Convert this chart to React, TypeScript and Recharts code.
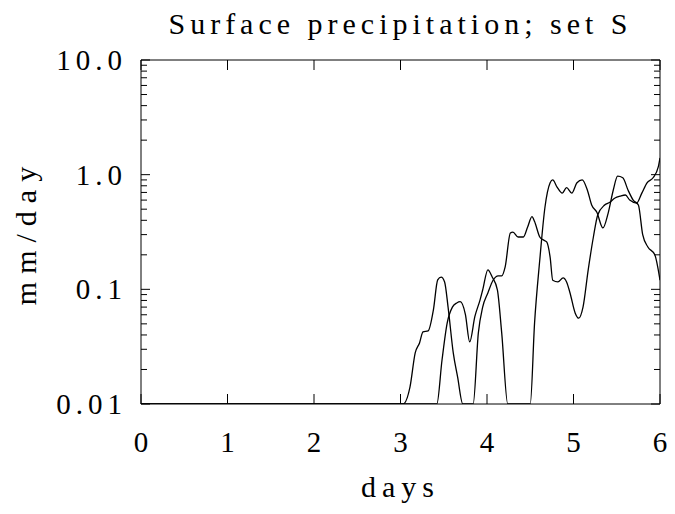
import { LineChart, Line, XAxis, YAxis } from 'recharts';

// days vs surface precipitation (mm/day)
const daysA = [0, 3.03, 3.11, 3.17, 3.22, 3.26, 3.32, 3.38, 3.43, 3.47, 3.51, 3.55, 3.61, 3.66, 3.72, 3.84, 3.9, 3.95, 4.01, 4.07, 4.13, 4.17, 4.21, 4.27, 4.3, 4.36, 4.42, 4.47, 4.52, 4.55, 4.61, 4.65, 4.69, 4.73, 4.76, 4.82, 4.88, 4.92, 4.96, 5.02, 5.06, 5.11, 5.17, 5.23, 5.28, 5.36, 5.42, 5.48, 5.54, 5.6, 5.65, 5.73, 5.79, 5.85, 5.92, 5.98, 6.0];
const precipA = [0.01, 0.01, 0.0141, 0.0279, 0.0341, 0.0425, 0.0434, 0.066, 0.121, 0.128, 0.116, 0.07, 0.0279, 0.0172, 0.01, 0.01, 0.0417, 0.07, 0.093, 0.12, 0.131, 0.131, 0.157, 0.31, 0.316, 0.286, 0.286, 0.35, 0.43, 0.39, 0.286, 0.27, 0.259, 0.19, 0.12, 0.116, 0.126, 0.116, 0.093, 0.062, 0.056, 0.07, 0.148, 0.286, 0.445, 0.544, 0.575, 0.626, 0.65, 0.665, 0.6, 0.566, 0.69, 0.85, 0.94, 1.17, 1.4];

const daysB = [0, 3.42, 3.48, 3.54, 3.6, 3.65, 3.69, 3.75, 3.8, 3.86, 3.92, 3.95, 4.01, 4.06, 4.12, 4.17, 4.24, 4.5, 4.55, 4.61, 4.67, 4.73, 4.76, 4.81, 4.87, 4.92, 4.98, 5.04, 5.1, 5.16, 5.21, 5.27, 5.34, 5.4, 5.46, 5.51, 5.57, 5.63, 5.69, 5.75, 5.8, 5.86, 5.94, 6.0];
const precipB = [0.01, 0.01, 0.0242, 0.051, 0.07, 0.076, 0.078, 0.0606, 0.0348, 0.058, 0.081, 0.0986, 0.148, 0.128, 0.099, 0.0417, 0.01, 0.01, 0.051, 0.18, 0.52, 0.85, 0.9, 0.78, 0.69, 0.77, 0.69, 0.85, 0.9, 0.735, 0.544, 0.47, 0.343, 0.46, 0.735, 0.97, 0.94, 0.735, 0.6, 0.544, 0.3, 0.234, 0.2, 0.12];

const xTicks = [0, 1, 2, 3, 4, 5, 6];
const yMajor = [0.01, 0.1, 1, 10];
const yMajorLabels = ['0.01', '0.1', '1.0', '10.0'];
const yMinor = [0.02, 0.03, 0.04, 0.05, 0.06, 0.07, 0.08, 0.09, 0.2, 0.3, 0.4, 0.5, 0.6, 0.7, 0.8, 0.9, 2, 3, 4, 5, 6, 7, 8, 9];

const seriesA = daysA.map((d, i) => ({ d, v: precipA[i] }));
const seriesB = daysB.map((d, i) => ({ d, v: precipB[i] }));
const yTicks = [...yMajor, ...yMinor];

const FONT = 'Liberation Serif, Times New Roman, serif';
const textStyle = { fontFamily: FONT, fontSize: 29, fill: '#000', letterSpacing: '5px' };

const BottomTick = ({ x, y, payload }: any) => (
  <g>
    <line x1={x} y1={y} x2={x} y2={y - 10} stroke="#000" />
    <text x={x + 2.5} y={y + 48} textAnchor="middle" style={textStyle}>
      {payload.value}
    </text>
  </g>
);

const TopTick = ({ x, y }: any) => <line x1={x} y1={y} x2={x} y2={y + 10} stroke="#000" />;

const LeftTick = ({ x, y, payload }: any) => {
  const i = yMajor.indexOf(payload.value);
  return (
    <g>
      <line x1={x} y1={y} x2={x + (i >= 0 ? 9 : 6)} y2={y} stroke="#000" />
      {i >= 0 && (
        <text x={x - 14} y={y + 10} textAnchor="end" style={textStyle}>
          {yMajorLabels[i]}
        </text>
      )}
    </g>
  );
};

const RightTick = ({ x, y, payload }: any) => {
  const major = yMajor.includes(payload.value);
  return <line x1={x} y1={y} x2={x - (major ? 9 : 6)} y2={y} stroke="#000" />;
};

export default function App() {
  return (
    <div style={{ position: 'relative', width: 667, height: 500 }}>
      <div
        style={{
          position: 'absolute',
          left: 133,
          width: 519,
          top: 1,
          textAlign: 'center',
          fontFamily: FONT,
          fontSize: 30,
          lineHeight: '30px',
          letterSpacing: '5px',
          color: '#000',
        }}
      >
        Surface precipitation; set S
      </div>
      <LineChart width={667} height={500} margin={{ top: 0, right: 0, bottom: 0, left: 0 }}>
        <XAxis
          xAxisId="b"
          type="number"
          dataKey="d"
          domain={[0, 6]}
          ticks={xTicks}
          interval={0}
          allowDataOverflow
          height={104}
          tickSize={0}
          tickMargin={0}
          tickLine={false}
          axisLine={{ stroke: '#000' }}
          tick={BottomTick}
          label={{
            value: 'days',
            position: 'insideBottom',
            offset: 11,
            fill: '#000',
            style: { ...textStyle, fontSize: 30, letterSpacing: '6px' },
          }}
        />
        <XAxis
          xAxisId="t"
          orientation="top"
          type="number"
          dataKey="d"
          domain={[0, 6]}
          ticks={xTicks}
          interval={0}
          allowDataOverflow
          height={52}
          tickSize={0}
          tickMargin={0}
          tickLine={false}
          axisLine={{ stroke: '#000' }}
          tick={TopTick}
        />
        <YAxis
          yAxisId="l"
          type="number"
          scale="log"
          domain={[0.01, 10]}
          ticks={yTicks}
          interval={0}
          allowDataOverflow
          width={133}
          tickSize={0}
          tickMargin={0}
          tickLine={false}
          axisLine={{ stroke: '#000' }}
          tick={LeftTick}
          label={{
            value: 'mm/day',
            angle: -90,
            position: 'insideLeft',
            offset: 17,
            fill: '#000',
            style: { ...textStyle, fontSize: 30, letterSpacing: '8px', textAnchor: 'middle' },
          }}
        />
        <YAxis
          yAxisId="r"
          orientation="right"
          type="number"
          scale="log"
          domain={[0.01, 10]}
          ticks={yTicks}
          interval={0}
          allowDataOverflow
          width={15}
          tickSize={0}
          tickMargin={0}
          tickLine={false}
          axisLine={{ stroke: '#000' }}
          tick={RightTick}
        />
        <Line
          xAxisId="b"
          yAxisId="l"
          data={seriesA}
          dataKey="v"
          type="monotone"
          stroke="#000"
          strokeWidth={1.3}
          dot={false}
          isAnimationActive={false}
        />
        <Line
          xAxisId="b"
          yAxisId="l"
          data={seriesB}
          dataKey="v"
          type="monotone"
          stroke="#000"
          strokeWidth={1.3}
          dot={false}
          isAnimationActive={false}
        />
      </LineChart>
    </div>
  );
}
